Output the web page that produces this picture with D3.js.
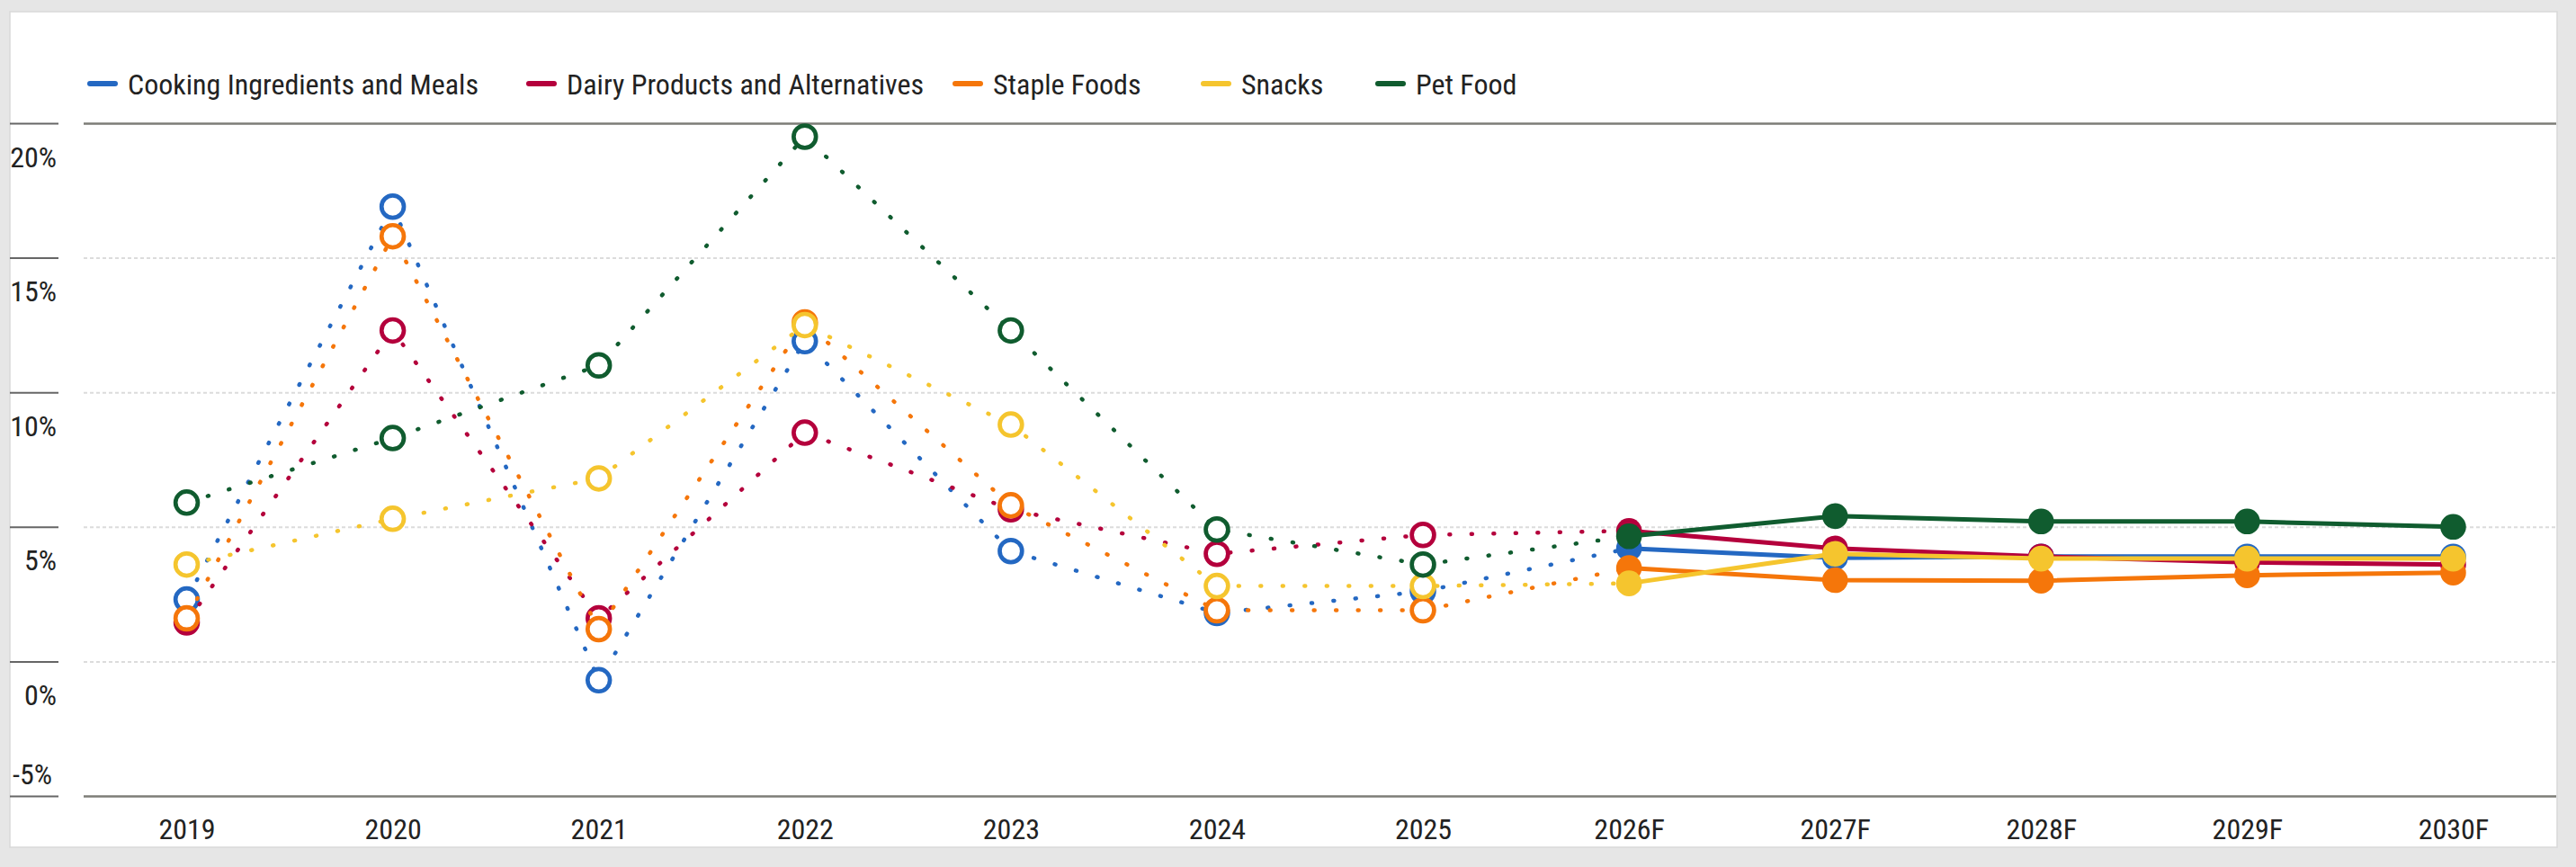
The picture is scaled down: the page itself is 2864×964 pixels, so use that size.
<!DOCTYPE html>
<html>
<head>
<meta charset="utf-8">
<script src="https://cdn.jsdelivr.net/npm/d3@7"></script>
<style>
  body { margin: 0; background: #e6e6e6; }
  svg { display: block; }
  text { font-family: "Liberation Sans Narrow", "Arial Narrow", "Roboto Condensed", sans-serif; fill: #222; }
</style>
</head>
<body>
<svg id="drawing_region"></svg>
<script>
// categories
const years = ["2019", "2020", "2021", "2022", "2023", "2024", "2025", "2026F", "2027F", "2028F", "2029F", "2030F"];
const forecastFrom = "2026F";

// series values (% growth)
const cookingValues = [2.3, 16.9, -0.7, 11.9, 4.1, 1.8, 2.6, 4.2, 3.85, 3.9, 3.9, 3.9];
const dairyValues   = [1.45, 12.3, 1.6, 8.5, 5.65, 4.0, 4.7, 4.85, 4.2, 3.9, 3.68, 3.6];
const stapleValues  = [1.6, 15.8, 1.2, 12.6, 5.8, 1.9, 1.9, 3.47, 3.02, 3.0, 3.2, 3.3];
const snackValues   = [3.6, 5.3, 6.8, 12.5, 8.8, 2.8, 2.8, 2.9, 4.0, 3.82, 3.82, 3.82];
const petValues     = [5.9, 8.3, 11.0, 19.5, 12.3, 4.9, 3.6, 4.65, 5.4, 5.2, 5.2, 5.0];

const seriesNames  = ["Cooking Ingredients and Meals", "Dairy Products and Alternatives", "Staple Foods", "Snacks", "Pet Food"];
const seriesColors = ["#2468c2", "#b4003c", "#f5760a", "#f5c52e", "#105c2f"];

// tick labels
const yTicks = [20, 15, 10, 5, 0, -5];
const yTickLabels = ["20%", "15%", "10%", "5%", "0%", "-5%"];

const allValues = [cookingValues, dairyValues, stapleValues, snackValues, petValues];

class LineChart {

    constructor( config, series ) {
        this.config = config;
        this.series = series;
        this.init();
    }

    init() {
        let self = this;
        const c = self.config;

        self.svg = d3.select( c.parent )
            .attr('width', c.width)
            .attr('height', c.height);

        // white card
        self.svg.append('rect')
            .attr('x', c.card.x).attr('y', c.card.y)
            .attr('width', c.card.w).attr('height', c.card.h)
            .attr('fill', '#fff')
            .attr('stroke', '#d9d9d9')
            .attr('stroke-width', 1.5);

        self.xscale = d3.scalePoint()
            .domain( years )
            .range( [c.plot.left, c.plot.right] )
            .padding( 0.5 );

        self.yscale = d3.scaleLinear()
            .domain( [d3.min(yTicks), d3.max(yTicks)] )
            .range( [c.plot.bottom, c.plot.top] );

        self.grid_group = self.svg.append('g')
            .attr('transform', `translate(${c.plot.left}, 0)`);
        self.yaxis_group = self.svg.append('g')
            .attr('transform', `translate(${c.yaxisX}, 0)`);
        self.xaxis_group = self.svg.append('g')
            .attr('transform', `translate(0, ${c.plot.bottom})`);
        self.legend_group = self.svg.append('g');
        self.lines_group = self.svg.append('g');
    }

    render() {
        let self = this;
        const c = self.config;
        const yMin = d3.min(yTicks), yMax = d3.max(yTicks);

        // gridlines
        const grid = d3.axisRight( self.yscale )
            .tickValues( yTicks )
            .tickSize( c.plot.right - c.plot.left )
            .tickFormat( '' );
        self.grid_group.call( grid );
        self.grid_group.select('.domain').remove();
        self.grid_group.selectAll('.tick line')
            .attr('stroke', d => (d === yMin || d === yMax) ? '#7d7d77' : '#dcdcdc')
            .attr('stroke-width', d => (d === yMin || d === yMax) ? 2.5 : 2)
            .attr('stroke-dasharray', d => (d === yMin || d === yMax) ? null : '4 3');

        // y axis: short ticks at the left with labels under them
        const yaxis = d3.axisLeft( self.yscale )
            .tickValues( yTicks )
            .tickSize( c.yaxisX - c.card.x )
            .tickFormat( (d, i) => yTickLabels[i] );
        self.yaxis_group.call( yaxis );
        self.yaxis_group.select('.domain').remove();
        self.yaxis_group.selectAll('.tick line')
            .attr('stroke', '#666')
            .attr('stroke-width', 2);
        self.yaxis_group.selectAll('.tick text')
            .attr('x', d => d === yMin ? -7 : -2)
            .attr('dy', null)
            .attr('y', d => d === yMin ? -14 : 48)
            .attr('font-size', 32)
            .attr('fill', '#222');

        // x axis labels
        const xaxis = d3.axisBottom( self.xscale )
            .tickSize( 0 )
            .tickPadding( 25 );
        self.xaxis_group.call( xaxis );
        self.xaxis_group.select('.domain').remove();
        self.xaxis_group.selectAll('.tick text')
            .attr('font-size', 32)
            .attr('fill', '#222');

        // legend
        const items = self.legend_group.selectAll('g')
            .data( seriesNames )
            .join('g')
            .attr('transform', (d, i) => `translate(${c.legendX[i]}, ${c.legendY})`);
        items.append('line')
            .attr('x1', 3).attr('x2', 31)
            .attr('stroke', (d, i) => seriesColors[i])
            .attr('stroke-width', 6)
            .attr('stroke-linecap', 'round');
        items.append('text')
            .attr('x', 45)
            .attr('dy', '0.36em')
            .attr('font-size', 32)
            .text( d => d );

        // series
        const fIdx = years.indexOf( forecastFrom );
        const line = d3.line()
            .x( d => self.xscale( d.year ) )
            .y( d => self.yscale( d.value ) );

        self.series.forEach( (vals, si) => {
            const pts = vals.map( (v, i) => ({ year: years[i], value: v, forecast: i >= fIdx }) );
            const color = seriesColors[si];
            const g = self.lines_group.append('g');

            g.append('path')
                .datum( pts.slice(0, fIdx + 1) )
                .attr('d', line)
                .attr('fill', 'none')
                .attr('stroke', color)
                .attr('stroke-width', 4.5)
                .attr('stroke-linecap', 'round')
                .attr('stroke-dasharray', '1 23.5');

            g.append('path')
                .datum( pts.slice(fIdx) )
                .attr('d', line)
                .attr('fill', 'none')
                .attr('stroke', color)
                .attr('stroke-width', 5);

            g.selectAll('circle')
                .data( pts )
                .join('circle')
                .attr('cx', d => self.xscale( d.year ))
                .attr('cy', d => self.yscale( d.value ))
                .attr('r', d => d.forecast ? 14.3 : 12.4)
                .attr('fill', d => d.forecast ? color : '#fff')
                .attr('stroke', color)
                .attr('stroke-width', d => d.forecast ? 0 : 4.7);
        });
    }
}

const config = {
    parent: '#drawing_region',
    width: 2864,
    height: 964,
    card: { x: 11, y: 13, w: 2832, h: 929 },
    plot: { left: 93, right: 2842, top: 137, bottom: 885 },
    yaxisX: 65,
    legendX: [97, 585, 1059, 1335, 1529],
    legendY: 93
};

const chart = new LineChart( config, allValues );
chart.render();
</script>
</body>
</html>
